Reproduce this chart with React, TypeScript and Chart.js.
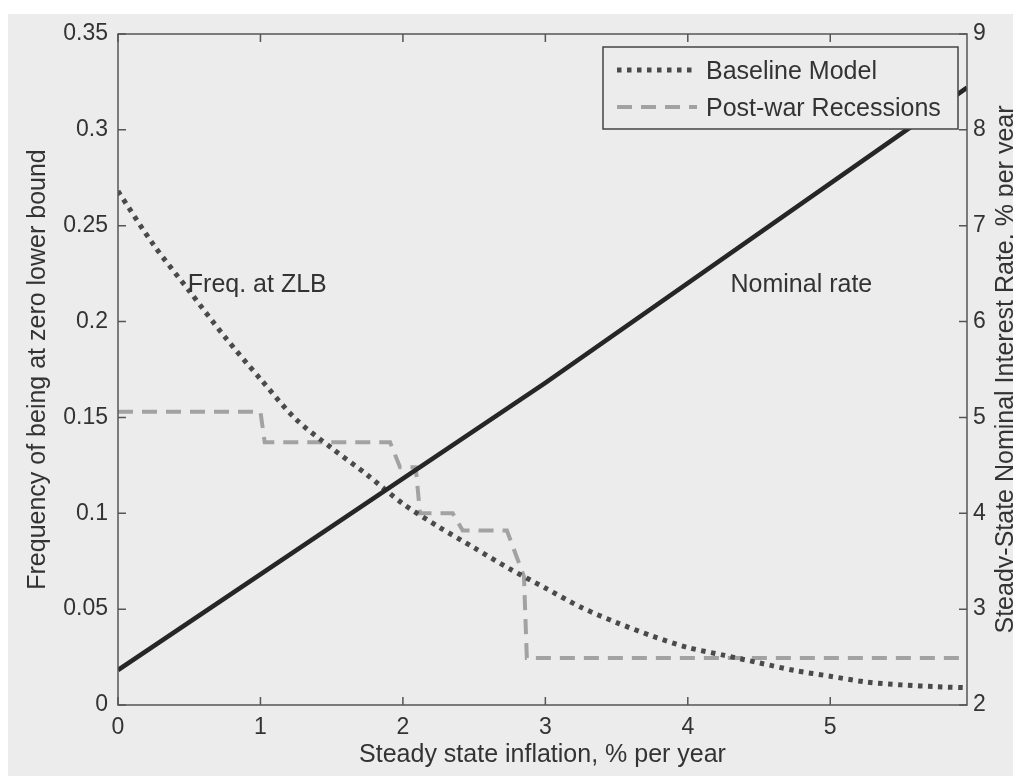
import React, { useEffect, useRef } from "react";
import { Chart, registerables } from "chart.js";

Chart.register(...registerables);

// ---------- data ----------
const inflationGrid = [
  0, 0.25, 0.5, 0.75, 1.0, 1.25, 1.5, 1.75, 2.0, 2.25, 2.5, 2.75, 3.0, 3.25,
  3.5, 3.75, 4.0, 4.25, 4.5, 4.75, 5.0, 5.25, 5.5, 5.75, 5.96,
];
const baselineModel = [
  0.268, 0.24, 0.216, 0.192, 0.17, 0.149, 0.134, 0.12, 0.105, 0.093, 0.082,
  0.071, 0.061, 0.051, 0.043, 0.036, 0.03, 0.026, 0.022, 0.018, 0.015, 0.012,
  0.0105, 0.0095, 0.009,
];
const recessionX = [0, 1.0, 1.03, 1.91, 1.98, 2.09, 2.12, 2.35, 2.42, 2.73, 2.85, 2.87, 5.96];
const recessionFreq = [0.153, 0.153, 0.137, 0.137, 0.124, 0.124, 0.1, 0.1, 0.091, 0.091, 0.067, 0.0245, 0.0245];
const nominalX = [0, 3.0, 5.96];
const nominalRate = [2.365, 5.36, 8.44];

const xTicks = [0, 1, 2, 3, 4, 5];
const leftTicks = [0, 0.05, 0.1, 0.15, 0.2, 0.25, 0.3, 0.35];
const rightTicks = [2, 3, 4, 5, 6, 7, 8, 9];

const seriesNames = ["Nominal rate", "Baseline Model", "Post-war Recessions"];
const xTitle = "Steady state inflation, % per year";
const leftTitle = "Frequency of being at zero lower bound";
const rightTitle = "Steady-State Nominal Interest Rate, % per year";
const notes = [
  { text: "Freq. at ZLB", x: 0.49, y: 0.2154 },
  { text: "Nominal rate", x: 4.3, y: 0.2154 },
];

// ---------- styles ----------
const FONT = "'Liberation Sans', Arial, Helvetica, sans-serif";
const BG = "#ececec";
const AXIS = "#555555";
const TEXT = "#333333";
const W = 1013;
const H = 768;

const decorPlugin = {
  id: "decor",
  beforeDraw(chart: any) {
    const { ctx } = chart;
    ctx.save();
    ctx.fillStyle = "#ffffff";
    ctx.fillRect(0, 0, chart.width, chart.height);
    ctx.fillStyle = BG;
    ctx.fillRect(0, 6, chart.width, chart.height - 6);
    ctx.restore();
  },
  afterDraw(chart: any) {
    const { ctx, chartArea: a, scales } = chart;
    const tl = 8;
    ctx.save();
    // frame
    ctx.strokeStyle = AXIS;
    ctx.lineWidth = 1.5;
    ctx.strokeRect(a.left, a.top, a.right - a.left, a.bottom - a.top);
    // inner ticks
    ctx.beginPath();
    for (const v of xTicks) {
      const px = scales.x.getPixelForValue(v);
      ctx.moveTo(px, a.bottom);
      ctx.lineTo(px, a.bottom - tl);
      ctx.moveTo(px, a.top);
      ctx.lineTo(px, a.top + tl);
    }
    for (const v of leftTicks) {
      const py = scales.y.getPixelForValue(v);
      ctx.moveTo(a.left, py);
      ctx.lineTo(a.left + tl, py);
    }
    for (const v of rightTicks) {
      const py = scales.y2.getPixelForValue(v);
      ctx.moveTo(a.right, py);
      ctx.lineTo(a.right - tl, py);
    }
    ctx.stroke();

    // titles
    ctx.fillStyle = TEXT;
    ctx.font = `25px ${FONT}`;
    ctx.textAlign = "center";
    ctx.textBaseline = "alphabetic";
    const cx = (a.left + a.right) / 2;
    const cy = (a.top + a.bottom) / 2;
    ctx.fillText(xTitle, cx, 754);
    ctx.save();
    ctx.translate(37, cy);
    ctx.rotate(-Math.PI / 2);
    ctx.fillText(leftTitle, 0, 0);
    ctx.restore();
    ctx.save();
    ctx.translate(1005, cy);
    ctx.rotate(-Math.PI / 2);
    ctx.fillText(rightTitle, 0, 0);
    ctx.restore();

    // notes
    ctx.textAlign = "left";
    for (const n of notes) {
      ctx.fillText(n.text, scales.x.getPixelForValue(n.x), scales.y.getPixelForValue(n.y));
    }

    // legend
    const bx = a.right - 9 - 355;
    const by = a.top + 13;
    const bw = 355;
    const bh = 82;
    ctx.fillStyle = BG;
    ctx.fillRect(bx, by, bw, bh);
    ctx.strokeStyle = "#444";
    ctx.lineWidth = 1.5;
    ctx.strokeRect(bx, by, bw, bh);
    const entries = [1, 2];
    entries.forEach((di, i) => {
      const ds = chart.data.datasets[di];
      const ry = by + 23 + i * 37;
      ctx.save();
      ctx.strokeStyle = ds.borderColor;
      ctx.lineWidth = ds.borderWidth;
      ctx.lineCap = ds.borderCapStyle || "butt";
      ctx.setLineDash(ds.borderDash || []);
      ctx.beginPath();
      ctx.moveTo(bx + 14, ry);
      ctx.lineTo(bx + 94, ry);
      ctx.stroke();
      ctx.restore();
      ctx.fillStyle = TEXT;
      ctx.font = `25px ${FONT}`;
      ctx.textAlign = "left";
      ctx.textBaseline = "alphabetic";
      ctx.fillText(ds.label, bx + 103, ry + 9);
    });
    ctx.restore();
  },
};

export default function App() {
  const ref = useRef<HTMLCanvasElement | null>(null);

  useEffect(() => {
    if (!ref.current) return;
    const tickFont = { family: FONT, size: 23 };
    const chart = new Chart(ref.current, {
      type: "line",
      data: {
        datasets: [
          {
            label: seriesNames[0],
            data: nominalX.map((x, i) => ({ x, y: nominalRate[i] })),
            yAxisID: "y2",
            borderColor: "#262626",
            borderWidth: 4.5,
            pointRadius: 0,
            order: 0,
          },
          {
            label: seriesNames[1],
            data: inflationGrid.map((x, i) => ({ x, y: baselineModel[i] })),
            yAxisID: "y",
            borderColor: "#4a4a4a",
            borderWidth: 5,
            borderDash: [4.5, 5.5],
            borderCapStyle: "butt",
            pointRadius: 0,
            tension: 0.3,
            order: 1,
          },
          {
            label: seriesNames[2],
            data: recessionX.map((x, i) => ({ x, y: recessionFreq[i] })),
            yAxisID: "y",
            borderColor: "#a2a2a2",
            borderWidth: 4,
            borderDash: [15, 9],
            borderCapStyle: "butt",
            pointRadius: 0,
            order: 2,
          },
        ],
      },
      options: {
        animation: false,
        responsive: false,
        maintainAspectRatio: false,
        layout: { padding: { top: 26, left: 0, right: 0, bottom: 0 } },
        plugins: { legend: { display: false }, tooltip: { enabled: false } },
        scales: {
          x: {
            type: "linear",
            min: 0,
            max: 5.96,
            grid: { display: false, drawTicks: false },
            border: { display: false },
            afterBuildTicks: (s: any) => {
              s.ticks = xTicks.map((v) => ({ value: v }));
            },
            afterFit: (s: any) => {
              s.height = 71;
            },
            ticks: {
              autoSkip: false,
              maxRotation: 0,
              padding: 9,
              color: TEXT,
              font: tickFont,
              callback: (v: any) => String(v),
            },
          },
          y: {
            type: "linear",
            position: "left",
            min: 0,
            max: 0.35,
            grid: { display: false, drawTicks: false },
            border: { display: false },
            afterBuildTicks: (s: any) => {
              s.ticks = leftTicks.map((v) => ({ value: v }));
            },
            afterFit: (s: any) => {
              s.width = 110;
            },
            ticks: {
              autoSkip: false,
              padding: 10,
              color: TEXT,
              font: tickFont,
              callback: (v: any) => String(+Number(v).toFixed(2)),
            },
          },
          y2: {
            type: "linear",
            position: "right",
            min: 2,
            max: 9,
            grid: { display: false, drawTicks: false },
            border: { display: false },
            afterBuildTicks: (s: any) => {
              s.ticks = rightTicks.map((v) => ({ value: v }));
            },
            afterFit: (s: any) => {
              s.width = 54;
            },
            ticks: {
              autoSkip: false,
              padding: 6,
              color: TEXT,
              font: tickFont,
              callback: (v: any) => String(v),
            },
          },
        },
      },
      plugins: [decorPlugin],
    } as any);
    return () => chart.destroy();
  }, []);

  return (
    <div style={{ width: W, height: H }}>
      <canvas ref={ref} width={W} height={H} style={{ display: "block" }} />
    </div>
  );
}
